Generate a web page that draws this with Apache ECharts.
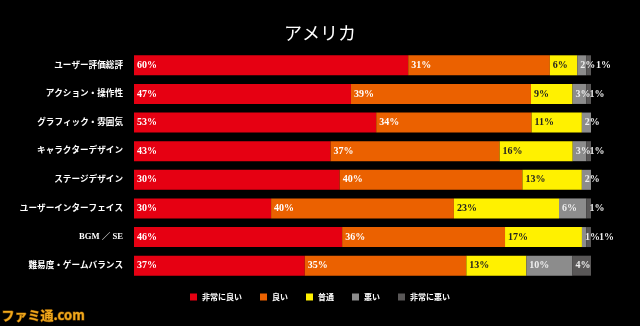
<!DOCTYPE html>
<html><head><meta charset="utf-8">
<script src="https://cdn.jsdelivr.net/npm/echarts@6/dist/echarts.min.js"></script>
<style>html,body{margin:0;padding:0;background:#000;}#c{width:640px;height:326px;}</style>
</head><body><div id="c"></div>
<script>
const categories = ['ユーザー評価総評','アクション・操作性','グラフィック・雰囲気','キャラクターデザイン','ステージデザイン','ユーザーインターフェイス','BGM ／ SE','難易度・ゲームバランス'];
const seriesNames = ['非常に良い','良い','普通','悪い','非常に悪い'];
const veryGood = [60,47,53,43,45,30,46,37];
const good     = [31,39,34,37,40,40,36,35];
const neutral  = [6,9,11,16,13,23,17,13];
const bad      = [2,3,2,3,2,6,1,10];
const veryBad  = [1,1,0,1,0,1,1,4];
// printed label differs from bar length in the source picture (row ステージデザイン)
const veryGoodPrinted = ['60%','47%','53%','43%','30%','30%','46%','37%'];

const colors = ['#e60012','#eb6100','#fff100','#8c8c8c','#595757'];
const labelColors = ['#ffffff','#ffffff','#222222','#eeeeee','#eeeeee'];
const allData = [veryGood, good, neutral, bad, veryBad];
const totals = categories.map((c, i) => allData.reduce((s, a) => s + a[i], 0));
const serifFont = '"Liberation Serif","Noto Sans CJK JP",serif';

const series = allData.map((arr, si) => ({
  name: seriesNames[si],
  type: 'bar',
  stack: 'total',
  barWidth: 20,
  itemStyle: {color: colors[si]},
  data: arr.map((v, i) => {
    // each row is drawn as share of its own total (rows fill the full width)
    const d = {value: v / totals[i] * 100};
    if (si === 4 && bad[i] <= 2) {
      d.label = {position: 'right', distance: bad[i] === 1 ? 8 : 5};
    }
    return d;
  }),
  label: {
    show: true,
    position: 'insideLeft',
    distance: 3,
    color: labelColors[si],
    fontFamily: serifFont,
    fontWeight: 'bold',
    fontSize: 10,
    formatter: p => {
      const raw = arr[p.dataIndex];
      if (raw === 0) return '';
      if (si === 0) return veryGoodPrinted[p.dataIndex];
      return raw + '%';
    }
  }
}));

const chart = echarts.init(document.getElementById('c'));
chart.setOption({
  backgroundColor: '#000',
  animation: false,
  title: {
    text: 'アメリカ', left: 'center', top: 19,
    textStyle: {color: '#fff', fontSize: 18, fontWeight: 'normal', fontFamily: '"Noto Sans CJK JP"'}
  },
  legend: {
    data: seriesNames, left: 'center', top: 288,
    itemWidth: 7, itemHeight: 7, itemGap: 18,
    icon: 'rect',
    textStyle: {color: '#fff', fontSize: 8, fontWeight: 'bold', fontFamily: '"Noto Sans CJK JP"'}
  },
  grid: {left: 134, right: 49, top: 51, height: 229, containLabel: false},
  xAxis: {type: 'value', min: 0, max: 100, show: false},
  yAxis: {
    type: 'category', data: categories, inverse: true,
    axisLine: {show: false}, axisTick: {show: false},
    axisLabel: {color: '#fff', fontSize: 8.6, fontWeight: 'bold', margin: 11, fontFamily: serifFont}
  },
  graphic: [{
    type: 'text', left: 1, top: 308,
    style: {text: 'ファミ通.com', fill: '#f0a81c', stroke: '#7a4a00', lineWidth: 1, fontSize: 13, fontWeight: 'bold', fontFamily: '"Noto Sans CJK JP"'}
  }],
  series: series
});
</script></body></html>
